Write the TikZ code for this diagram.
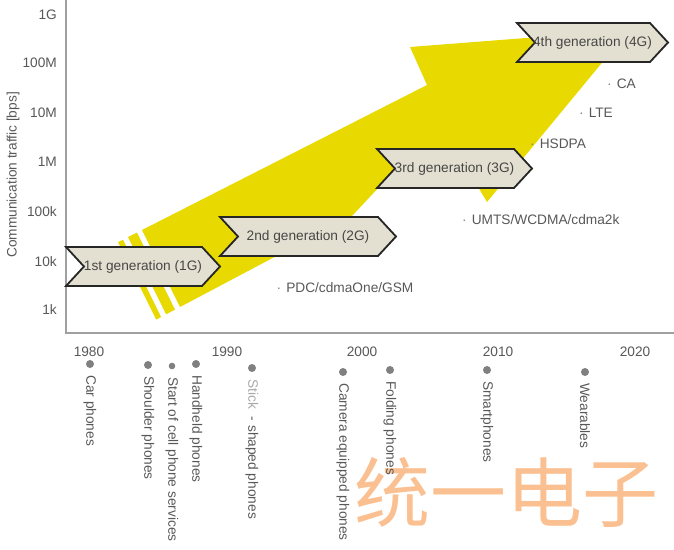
\documentclass[tikz,border=0pt]{standalone}
\usepackage{fontspec}
\setmainfont{Liberation Sans}
\newfontfamily\cjk{Noto Sans CJK SC}
\usetikzlibrary{positioning}

\definecolor{sunyellow}{RGB}{232,218,0}
\definecolor{genfill}{RGB}{228,224,209}
\definecolor{genline}{RGB}{38,38,38}
\definecolor{axisgray}{RGB}{160,160,160}
\definecolor{txtgray}{RGB}{88,88,88}
\definecolor{dotgray}{RGB}{128,128,128}
\definecolor{stickgray}{RGB}{168,168,168}
\definecolor{markorange}{RGB}{250,192,145}

\begin{document}
\begin{tikzpicture}[x=1pt,y=-1pt,font=\fontsize{13.7}{16}\selectfont,
 gen/.style={draw=genline,fill=genfill,line width=1.8pt,line join=miter},
 gentext/.style={text=txtgray!80!black,inner sep=0pt},
 lab/.style={text=txtgray,inner sep=0pt},
 tick/.style={lab,anchor=east},
 year/.style={lab},
 tech/.style={lab,anchor=west},
 evt/.style={lab,rotate=-90,anchor=west},
 dot/.style={circle,fill=dotgray,inner sep=0pt},
 axis/.style={draw=axisgray,line width=1.5pt}]
\useasboundingbox (0,0) rectangle (674,549);
% watermark
\node[text=markorange,inner sep=0pt,font=\cjk\fontsize{76}{76}\selectfont] (mark) at (506,492) {统一电子};
% axes
\coordinate (ytop) at (66,0);
\coordinate (orig) at (66,333);
\coordinate (xend) at (674,333);
\draw[axis] (ytop) -- (orig) -- (xend);
\foreach \t/\y in {1G/15,100M/63,10M/113,1M/162,100k/212,10k/262,1k/310}
  \node[tick] (tick\t) at (57,\y) {\t};
\node[lab,rotate=90] (ytitle) at (13,175) {Communication traffic [bps]};
\foreach \yr/\x in {1980/89,1990/227,2000/362,2010/498,2020/635}
  \node[year] (yr\yr) at (\x,352) {\yr};
% yellow arrow and stripes
\fill[sunyellow] (180,307) -- (142,230) -- (427,85) -- (410,47) -- (629,30)
  -- (487,202) -- (462,160) -- (380,186) -- (352,216) -- cycle;
\fill[sunyellow] (118,242.2) -- (123,239.7) -- (161.1,317.0) -- (156.2,319.6) -- cycle;
\fill[sunyellow] (128,237.1) -- (137,232.5) -- (175.0,309.6) -- (166.1,314.3) -- cycle;
% generation boxes
\foreach \n/\xl/\xr/\ym/\txt in {g1/66/220/266.5/1st generation (1G),
  g2/220/396/236.5/2nd generation (2G),g3/377/532/168.5/3rd generation (3G),
  g4/517/668/42.5/4th generation (4G)}{
  \draw[gen] (\xl,\ym-19.5) -- (\xl+18,\ym) -- (\xl,\ym+19.5) -- (\xr-18,\ym+19.5)
    -- (\xr,\ym) -- (\xr-18,\ym-19.5) -- cycle;
  \node[gentext] (\n) at ({(\xl+\xr)/2},\ym) {\txt};
}
% technologies
\foreach \n/\x/\y/\txt in {pdc/276.5/288/{PDC/cdmaOne/GSM},umts/462/220/{UMTS/WCDMA/cdma2k},
  hsdpa/530/144/HSDPA,lte/579/113/LTE,ca/607/84/CA}
  \node[tech] (\n) at (\x,\y) {{\color{dotgray}·}\hspace{5pt}\txt};
% handset timeline
\foreach \x/\y/\r/\txt [count=\i] in {90/364/4/Car phones,148/365/4/Shoulder phones,
  172/366/3.3/Start of cell phone services,196/364/4/Handheld phones,
  343/372/4/Camera equipped phones,390/370/4/Folding phones,
  487/370/4/Smartphones,585/372/4/Wearables}{
  \node[dot,minimum size=2*\r pt] (dot\i) at (\x,\y) {};
  \node[evt] (evt\i) at (\x,\y+11) {\txt};
}
\node[dot,minimum size=8pt] (dot9) at (252,368) {};
\node[evt] (evt9) at (252,379) {{\color{stickgray}Stick}\hspace{8pt}- shaped phones};
\end{tikzpicture}
\end{document}
